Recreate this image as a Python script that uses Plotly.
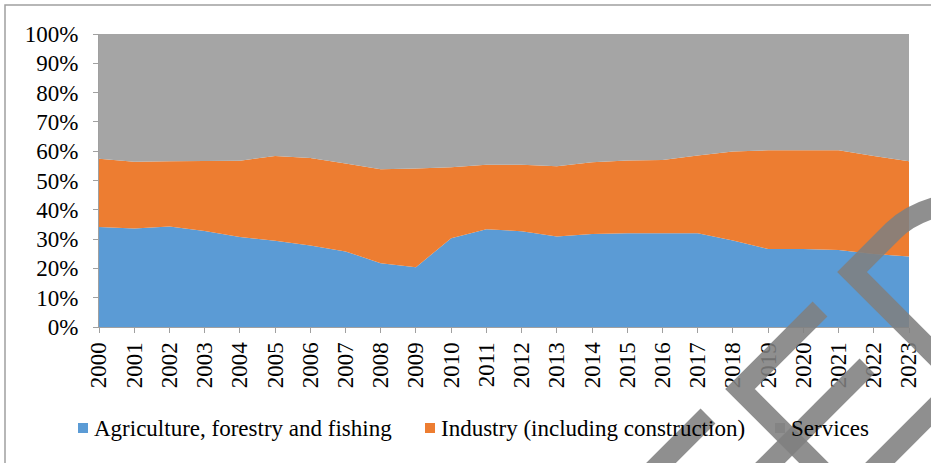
import plotly.graph_objects as go

# Share of value added by sector, 2000-2023 (percent)
years = list(range(2000, 2024))
agriculture = [34.1, 33.6, 34.3, 32.8, 30.7, 29.4, 27.8, 25.8, 21.8, 20.4, 30.3, 33.4,
               32.7, 30.9, 31.7, 32.0, 32.0, 32.0, 29.5, 26.6, 26.6, 26.3, 24.9, 24.1]
industry = [23.3, 22.8, 22.3, 23.8, 26.0, 29.0, 29.9, 30.0, 32.0, 33.7, 24.2, 22.0,
            22.7, 24.0, 24.5, 24.8, 25.0, 26.5, 30.4, 33.7, 33.6, 34.0, 33.5, 32.5]
services = [42.6, 43.6, 43.4, 43.4, 43.3, 41.6, 42.3, 44.2, 46.2, 45.9, 45.5, 44.6,
            44.6, 45.1, 43.8, 43.2, 43.0, 41.5, 40.1, 39.7, 39.8, 39.7, 41.6, 43.4]
series_names = ["Agriculture, forestry and fishing",
                "Industry (including construction)",
                "Services"]
series_colors = ["#5B9BD5", "#ED7D31", "#A5A5A5"]
y_ticks = list(range(0, 101, 10))
y_tick_labels = [f"{v}%" for v in y_ticks]

W, H = 931, 463
L, R, T, B = 99, 22, 34, 136
PW, PH = W - L - R, H - T - B
FONT = "serif"

fig = go.Figure()
for name, vals, color in zip(series_names, [agriculture, industry, services], series_colors):
    fig.add_trace(go.Scatter(
        x=years, y=vals, name=name, mode="lines",
        stackgroup="share", groupnorm="percent",
        line=dict(width=0, color=color), fillcolor=color,
        showlegend=False, hoverinfo="x+y+name",
    ))


def px(x, y):
    """Convert page pixel position to paper coordinates."""
    return (x - L) / PW, 1 - (y - T) / PH


def path(points, curve=None):
    parts = []
    for i, (x, y) in enumerate(points):
        X, Y = px(x, y)
        parts.append(("M" if i == 0 else "L") + f"{X:.5f},{Y:.5f}")
    if curve:
        (cx, cy), (ex, ey) = curve
        CX, CY = px(cx, cy)
        EX, EY = px(ex, ey)
        parts.append(f"Q{CX:.5f},{CY:.5f} {EX:.5f},{EY:.5f}")
    return " ".join(parts)


shapes = [
    # outer frame
    dict(type="rect", xref="paper", yref="paper", layer="below",
         x0=px(5, 0)[0], x1=px(960, 0)[0], y0=px(0, 490)[1], y1=px(0, 5)[1],
         line=dict(color="#A0A0A0", width=1.5)),
]

# Legend row: square swatch followed by the series name
annotations = []
legend_y = 428
legend_x = [78, 425, 775]
for x0, name, color in zip(legend_x, series_names, series_colors):
    a0, b0 = px(x0, legend_y + 5)
    a1, b1 = px(x0 + 10, legend_y - 5)
    shapes.append(dict(type="rect", xref="paper", yref="paper", layer="above",
                       x0=a0, x1=a1, y0=b0, y1=b1,
                       fillcolor=color, line=dict(width=0)))
    tx, ty = px(x0 + 14, legend_y)
    annotations.append(dict(text=name, xref="paper", yref="paper", x=tx, y=ty,
                            xanchor="left", yanchor="middle", showarrow=False,
                            font=dict(family=FONT, size=23, color="black")))

# translucent logo strokes in the lower-right corner
mark_style = dict(type="path", xref="paper", yref="paper", layer="above",
                  line=dict(color="rgba(128,128,128,0.88)", width=21))
shapes += [
    dict(path=path([(648, 476), (708, 416)]), **mark_style),
    dict(path=path([(820, 309), (740, 389), (830, 479)]), **mark_style),
    dict(path=path([(867, 366), (755, 478)]), **mark_style),
    dict(path=path([(865, 478), (945, 398)]), **mark_style),
    dict(path=path([(945, 365), (852, 272), (893, 231)],
                   curve=((912, 212), (945, 205))), **mark_style),
]

axis_color = "#A0A0A0"
fig.update_layout(
    width=W, height=H,
    margin=dict(l=L, r=R, t=T, b=B, autoexpand=False),
    paper_bgcolor="white", plot_bgcolor="white",
    font=dict(family=FONT, size=23, color="black"),
    shapes=shapes, annotations=annotations,
    showlegend=False,
    xaxis=dict(
        range=[years[0], years[-1]], tickmode="array", tickvals=years,
        ticktext=[str(y) for y in years], tickangle=-90,
        ticks="outside", ticklen=5, tickcolor=axis_color,
        showline=True, linecolor=axis_color, linewidth=1,
        showgrid=False, zeroline=False, automargin=False,
        tickfont=dict(family=FONT, size=23, color="black"),
    ),
    yaxis=dict(
        range=[0, 100], tickmode="array", tickvals=y_ticks, ticktext=y_tick_labels,
        ticks="outside", ticklen=5, tickcolor=axis_color, ticklabelstandoff=10,
        showline=True, linecolor=axis_color, linewidth=1,
        showgrid=False, zeroline=False, automargin=False,
        tickfont=dict(family=FONT, size=23, color="black"),
    ),
)

fig.write_html("out.html")
